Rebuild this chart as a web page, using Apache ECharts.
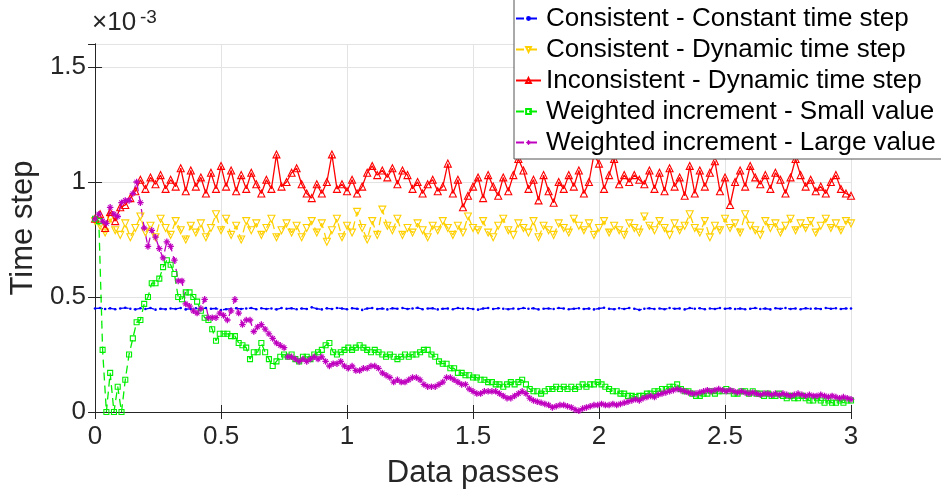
<!DOCTYPE html>
<html><head><meta charset="utf-8">
<script src="https://cdn.jsdelivr.net/npm/echarts/dist/echarts.min.js"></script>
<style>html,body{margin:0;padding:0;background:#fff}#c{width:941px;height:495px}</style>
</head><body><div id="c"></div>
<script>
// Values in units of 1e-3
const seriesNames = [
  'Consistent - Constant time step',
  'Consistent - Dynamic time step',
  'Inconsistent - Dynamic time step',
  'Weighted increment - Small value',
  'Weighted increment - Large value'
];
const xTickLabels = ['0','0.5','1','1.5','2','2.5','3'];
const yTickLabels = ['0','0.5','1','1.5'];

// x = 0..3, step 0.02
const constantStep = [
0.45,0.452,0.448,0.451,0.447,0.45,0.453,0.449,0.446,0.451,
0.448,0.452,0.445,0.449,0.447,0.45,0.448,0.452,0.446,0.449,
0.451,0.447,0.452,0.449,0.45,0.443,0.447,0.449,0.451,0.448,
0.45,0.452,0.447,0.451,0.448,0.45,0.446,0.452,0.449,0.451,
0.447,0.45,0.448,0.455,0.449,0.446,0.451,0.448,0.452,0.45,
0.447,0.451,0.449,0.444,0.45,0.452,0.448,0.45,0.446,0.451,
0.449,0.452,0.448,0.45,0.453,0.447,0.45,0.451,0.446,0.449,
0.45,0.447,0.452,0.449,0.451,0.448,0.445,0.45,0.452,0.448,
0.451,0.449,0.447,0.45,0.448,0.452,0.449,0.451,0.446,0.449,
0.45,0.448,0.452,0.45,0.447,0.449,0.451,0.448,0.45,0.446,
0.45,0.453,0.449,0.447,0.451,0.448,0.452,0.449,0.444,0.449,
0.451,0.448,0.45,0.447,0.452,0.449,0.45,0.446,0.452,0.449,
0.451,0.447,0.45,0.448,0.452,0.449,0.451,0.448,0.45,0.447,
0.449,0.452,0.448,0.45,0.446,0.451,0.449,0.452,0.448,0.45,
0.447,0.451,0.449,0.45,0.448,0.452,0.449,0.451,0.448,0.45,
0.45];

// x = 0..3, step 0.02
const consistentDynamic = [
0.83,0.81,0.78,0.84,0.79,0.77,0.82,0.76,0.80,0.85,
0.78,0.81,0.76,0.84,0.80,0.77,0.83,0.79,0.75,0.81,
0.78,0.82,0.76,0.80,0.86,0.79,0.84,0.77,0.81,0.75,
0.83,0.79,0.82,0.77,0.80,0.84,0.76,0.79,0.82,0.78,
0.81,0.76,0.80,0.83,0.78,0.82,0.74,0.79,0.84,0.76,
0.81,0.78,0.87,0.80,0.75,0.83,0.77,0.88,0.81,0.79,
0.84,0.77,0.80,0.78,0.82,0.79,0.76,0.81,0.79,0.83,
0.80,0.77,0.81,0.78,0.85,0.80,0.79,0.83,0.78,0.76,
0.81,0.84,0.79,0.77,0.82,0.80,0.78,0.83,0.76,0.81,
0.79,0.77,0.82,0.80,0.78,0.84,0.81,0.79,0.82,0.77,
0.80,0.83,0.78,0.81,0.79,0.77,0.82,0.80,0.78,0.85,
0.81,0.79,0.83,0.80,0.77,0.82,0.79,0.81,0.86,0.80,
0.78,0.83,0.76,0.81,0.79,0.84,0.80,0.82,0.78,0.86,
0.81,0.79,0.77,0.83,0.80,0.82,0.78,0.81,0.84,0.79,
0.82,0.80,0.83,0.78,0.81,0.84,0.80,0.82,0.79,0.83,
0.82];

// x = 0..3, step 0.02
const inconsistentDynamic = [
0.84,0.86,0.80,0.87,0.83,0.89,0.90,0.93,0.96,1.01,
0.97,1.02,0.99,1.03,0.97,1.01,0.98,1.06,0.96,1.05,
0.98,1.02,0.95,1.04,0.97,1.07,0.98,1.05,0.96,1.03,
0.97,1.04,0.99,0.95,1.01,0.97,1.12,0.98,1.00,1.04,
1.06,0.99,0.95,0.93,0.99,0.95,1.00,1.12,0.97,0.99,
0.96,1.01,0.95,0.98,1.04,1.07,1.03,1.05,1.02,1.06,
0.99,1.05,1.03,0.97,1.00,0.95,0.99,1.01,0.96,0.98,
1.08,0.95,1.01,0.89,0.94,0.98,1.02,0.93,1.03,0.98,
0.94,1.02,0.96,1.03,1.10,1.05,0.97,1.01,0.92,1.03,
0.96,0.91,1.00,0.97,1.03,0.98,1.05,0.95,1.00,1.12,
1.08,0.97,1.03,1.10,0.99,1.03,1.00,1.03,1.01,0.99,
1.05,0.97,1.04,0.96,1.06,0.98,1.02,0.94,1.07,0.95,
1.05,0.98,1.04,1.09,0.96,1.02,0.90,1.00,1.05,0.98,
1.07,1.02,0.99,1.03,0.97,1.04,1.01,0.95,1.02,1.10,
1.03,0.98,1.01,0.96,0.98,0.95,1.00,1.03,0.97,0.95,
0.94];

// x = 0..3, step 0.015
const weightedSmall = [
0.84,0.83,0.27,0.00,0.17,0.00,0.11,0.00,0.14,0.25,
0.32,0.39,0.40,0.47,0.50,0.56,0.56,0.58,0.63,0.66,
0.64,0.60,0.50,0.49,0.52,0.52,0.50,0.48,0.44,0.41,
0.40,0.36,0.31,0.34,0.34,0.34,0.33,0.33,0.30,0.29,
0.28,0.23,0.26,0.26,0.30,0.26,0.23,0.20,0.22,0.24,
0.25,0.24,0.25,0.23,0.22,0.24,0.24,0.23,0.25,0.26,
0.27,0.29,0.30,0.26,0.25,0.26,0.27,0.28,0.27,0.28,
0.29,0.28,0.27,0.26,0.27,0.26,0.25,0.24,0.25,0.24,
0.23,0.24,0.25,0.24,0.25,0.25,0.26,0.27,0.27,0.25,
0.24,0.22,0.21,0.21,0.19,0.19,0.17,0.17,0.16,0.16,
0.15,0.15,0.14,0.14,0.13,0.13,0.12,0.12,0.11,0.12,
0.13,0.12,0.13,0.14,0.12,0.10,0.09,0.09,0.08,0.09,
0.10,0.10,0.11,0.10,0.11,0.10,0.11,0.10,0.11,0.12,
0.11,0.12,0.12,0.13,0.12,0.11,0.10,0.09,0.09,0.08,
0.08,0.07,0.07,0.065,0.07,0.07,0.08,0.08,0.09,0.09,
0.10,0.10,0.11,0.11,0.12,0.10,0.09,0.09,0.08,0.07,
0.07,0.08,0.08,0.09,0.08,0.09,0.09,0.10,0.09,0.08,
0.08,0.09,0.09,0.08,0.09,0.08,0.08,0.07,0.08,0.07,
0.07,0.08,0.07,0.06,0.07,0.06,0.06,0.07,0.06,0.05,
0.05,0.06,0.05,0.04,0.05,0.04,0.04,0.05,0.04,0.05,
0.05];

// x = 0..3, step 0.015
const weightedLarge = [
0.84,0.86,0.83,0.82,0.89,0.86,0.85,0.91,0.92,0.92,
0.95,1.00,0.91,0.80,0.72,0.79,0.76,0.71,0.67,0.74,
0.72,0.66,0.57,0.57,0.47,0.46,0.44,0.43,0.45,0.49,
0.41,0.41,0.41,0.43,0.42,0.40,0.44,0.49,0.43,0.38,
0.40,0.40,0.35,0.37,0.38,0.36,0.34,0.32,0.30,0.29,
0.28,0.24,0.24,0.23,0.22,0.23,0.22,0.23,0.24,0.23,
0.24,0.22,0.20,0.21,0.21,0.22,0.20,0.19,0.20,0.18,
0.18,0.19,0.19,0.20,0.20,0.19,0.17,0.16,0.15,0.13,
0.14,0.13,0.13,0.14,0.15,0.15,0.14,0.12,0.11,0.11,
0.11,0.12,0.13,0.15,0.15,0.14,0.13,0.12,0.12,0.10,
0.09,0.08,0.08,0.09,0.09,0.09,0.09,0.08,0.07,0.06,
0.06,0.07,0.08,0.09,0.08,0.06,0.05,0.045,0.04,0.035,
0.03,0.02,0.025,0.03,0.03,0.025,0.02,0.01,0.005,0.015,
0.02,0.025,0.03,0.03,0.035,0.03,0.03,0.035,0.03,0.035,
0.04,0.045,0.05,0.055,0.05,0.06,0.065,0.07,0.065,0.075,
0.08,0.085,0.09,0.095,0.10,0.095,0.09,0.085,0.08,0.08,
0.085,0.09,0.095,0.09,0.095,0.10,0.095,0.09,0.095,0.09,
0.085,0.09,0.085,0.08,0.085,0.08,0.075,0.08,0.08,0.075,
0.08,0.075,0.08,0.075,0.07,0.075,0.08,0.075,0.07,0.075,
0.07,0.07,0.075,0.07,0.065,0.07,0.065,0.06,0.065,0.06,
0.055];

const FONT = 'Liberation Sans, Arial, Helvetica, sans-serif';
const AX = '#262626';
const XMAX = 3;

function pairs(vals){ return vals.map((v,i)=>[i*XMAX/(vals.length-1), v]); }

const asterisk = 'path://M0,4L10,4L10,6L0,6Z M4,0L6,0L6,10L4,10Z M1,2L2,1L9,8L8,9Z M8,1L9,2L2,9L1,8Z';

function mk(name, vals, color, symbol, size, dashed, hollow, rotate){
  return {
    name, type:'line', data: pairs(vals),
    symbol, symbolSize:size, symbolRotate: rotate||0,
    showSymbol:true, showAllSymbol:true,
    lineStyle:{color, width:1.3, type: dashed ? [8,5] : 'solid'},
    itemStyle: hollow ? {color:'rgba(255,255,255,0)', borderColor:color, borderWidth:1.1}
                      : {color, borderWidth:0},
    emphasis:{disabled:true},
    animation:false
  };
}

const chart = echarts.init(document.getElementById('c'), null, {renderer:'canvas'});
const axisCommon = {
  type:'value', min:0,
  axisLine:{show:true, lineStyle:{color:AX, width:1}},
  axisTick:{show:true, inside:true, length:7, lineStyle:{color:AX}},
};
chart.setOption({
  backgroundColor:'#fff',
  animation:false,
  grid:{left:89, right:90, top:44, bottom:83, containLabel:false},
  xAxis:[
    Object.assign({}, axisCommon, {max:3, interval:0.5, position:'bottom',
      name:'Data passes', nameLocation:'middle', nameGap:46,
      nameTextStyle:{fontSize:31, fontFamily:FONT, color:AX},
      axisLabel:{fontSize:26, fontFamily:FONT, color:AX, margin:12,
        formatter:(v)=>{const i=Math.round(v/0.5); return xTickLabels[i]!==undefined?xTickLabels[i]:'';}},
      splitLine:{show:true, lineStyle:{color:'#e3e3e3', width:1}}
    }),
    Object.assign({}, axisCommon, {max:3, interval:0.5, position:'top',
      axisLabel:{show:false}, splitLine:{show:false}})
  ],
  yAxis:[
    Object.assign({}, axisCommon, {max:1.6, interval:0.5, position:'left',
      name:'Time step', nameLocation:'middle', nameGap:52,
      nameTextStyle:{fontSize:31, fontFamily:FONT, color:AX},
      axisLabel:{fontSize:26, fontFamily:FONT, color:AX, margin:9,
        formatter:(v)=>{const i=Math.round(v/0.5); return yTickLabels[i]!==undefined?yTickLabels[i]:'';}},
      splitLine:{show:true, lineStyle:{color:'#e3e3e3', width:1}}
    }),
    Object.assign({}, axisCommon, {max:1.6, interval:0.5, position:'right',
      axisLabel:{show:false}, splitLine:{show:false}})
  ],
  legend:{
    orient:'vertical', left:514, top:-4,
    backgroundColor:'#fff', borderColor:'#555', borderWidth:1,
    padding:[9,40,3,1], itemGap:4, itemWidth:25, itemHeight:6,
    textStyle:{fontSize:26, fontFamily:FONT, color:'#000', lineHeight:27},
    data: seriesNames
  },
  graphic:[
    {type:'text', left:92, top:10, style:{text:'×10', fontSize:26, fontFamily:FONT, fill:AX}},
    {type:'text', left:140, top:8, style:{text:'-3', fontSize:19, fontFamily:FONT, fill:AX}}
  ],
  series:[
    mk(seriesNames[0], constantStep, '#0000ff', 'circle', 2.6, true, false),
    mk(seriesNames[1], consistentDynamic, '#ffd000', 'triangle', 7, true, true, 180),
    mk(seriesNames[2], inconsistentDynamic, '#ff0000', 'triangle', 7, false, true),
    mk(seriesNames[3], weightedSmall, '#00ee00', 'rect', 5, true, true),
    mk(seriesNames[4], weightedLarge, '#bf00bf', asterisk, 6.5, true, false)
  ]
});
</script></body></html>
